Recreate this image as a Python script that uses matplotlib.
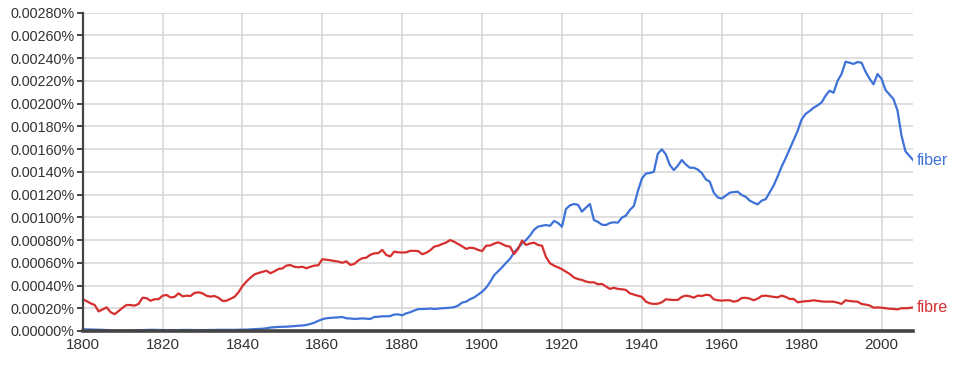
import matplotlib
matplotlib.use("Agg")
import matplotlib.pyplot as plt
from matplotlib.ticker import FuncFormatter, MultipleLocator

plt.rcParams['font.family'] = ['Liberation Sans', 'DejaVu Sans']

years = list(range(1800, 2009))

fibre = [
    0.000281, 0.000262, 0.000243, 0.000229, 0.000172, 0.000190, 0.000208, 0.000165, 0.000148, 0.000175,
    0.000205, 0.000229, 0.000228, 0.000223, 0.000238, 0.000293, 0.000288, 0.000266, 0.000279, 0.000280,
    0.000310, 0.000317, 0.000295, 0.000300, 0.000331, 0.000305, 0.000310, 0.000308, 0.000335, 0.000340,
    0.000331, 0.000310, 0.000302, 0.000308, 0.000292, 0.000265, 0.000266, 0.000283, 0.000300, 0.000340,
    0.000395, 0.000435, 0.000468, 0.000498, 0.000510, 0.000520, 0.000530, 0.000508, 0.000525, 0.000545,
    0.000550, 0.000575, 0.000580, 0.000565, 0.000560, 0.000565, 0.000552, 0.000565, 0.000575, 0.000578,
    0.000631, 0.000627, 0.000622, 0.000615, 0.000610, 0.000600, 0.000613, 0.000581, 0.000590, 0.000620,
    0.000640, 0.000645, 0.000670, 0.000683, 0.000685, 0.000713, 0.000669, 0.000656, 0.000698, 0.000692,
    0.000690, 0.000692, 0.000705, 0.000705, 0.000703, 0.000675, 0.000688, 0.000710, 0.000742, 0.000750,
    0.000765, 0.000778, 0.000800, 0.000785, 0.000765, 0.000745, 0.000722, 0.000733, 0.000728, 0.000713,
    0.000703, 0.000750, 0.000752, 0.000768, 0.000780, 0.000765, 0.000748, 0.000742, 0.000677, 0.000721,
    0.000795, 0.000757, 0.000770, 0.000777, 0.000757, 0.000750, 0.000650, 0.000596, 0.000575, 0.000560,
    0.000543, 0.000522, 0.000500, 0.000470, 0.000457, 0.000449, 0.000435, 0.000428, 0.000428, 0.000411,
    0.000414, 0.000392, 0.000370, 0.000380, 0.000370, 0.000367, 0.000361, 0.000331, 0.000320, 0.000310,
    0.000300, 0.000258, 0.000243, 0.000238, 0.000240, 0.000252, 0.000279, 0.000275, 0.000273, 0.000273,
    0.000300, 0.000311, 0.000305, 0.000293, 0.000311, 0.000308, 0.000318, 0.000315, 0.000279, 0.000270,
    0.000267, 0.000270, 0.000270, 0.000258, 0.000265, 0.000290, 0.000292, 0.000285, 0.000270, 0.000285,
    0.000308, 0.000311, 0.000305, 0.000300, 0.000296, 0.000311, 0.000300, 0.000282, 0.000282, 0.000252,
    0.000258, 0.000262, 0.000264, 0.000270, 0.000265, 0.000260, 0.000258, 0.000258, 0.000258, 0.000249,
    0.000238, 0.000270, 0.000264, 0.000260, 0.000258, 0.000238, 0.000232, 0.000225, 0.000205, 0.000207,
    0.000205, 0.000200, 0.000196, 0.000194, 0.000190, 0.000200, 0.000200, 0.000202, 0.000208,
]

fiber = [
    0.000015, 0.000014, 0.000013, 0.000012, 0.000011, 0.000010, 0.000008, 0.000005, 0.000003, 0.000003,
    0.000003, 0.000003, 0.000004, 0.000005, 0.000007, 0.000008, 0.000009, 0.000010, 0.000010, 0.000009,
    0.000008, 0.000008, 0.000008, 0.000008, 0.000008, 0.000009, 0.000009, 0.000009, 0.000008, 0.000008,
    0.000008, 0.000008, 0.000009, 0.000009, 0.000010, 0.000010, 0.000010, 0.000010, 0.000010, 0.000011,
    0.000011, 0.000012, 0.000014, 0.000016, 0.000018, 0.000020, 0.000024, 0.000030, 0.000033, 0.000036,
    0.000037, 0.000038, 0.000040, 0.000043, 0.000046, 0.000048, 0.000053, 0.000062, 0.000073, 0.000090,
    0.000103, 0.000112, 0.000115, 0.000118, 0.000120, 0.000123, 0.000112, 0.000110, 0.000106, 0.000108,
    0.000111, 0.000108, 0.000106, 0.000123, 0.000125, 0.000129, 0.000129, 0.000131, 0.000145, 0.000146,
    0.000138, 0.000155, 0.000165, 0.000180, 0.000192, 0.000193, 0.000194, 0.000198, 0.000193, 0.000197,
    0.000200, 0.000202, 0.000205, 0.000210, 0.000223, 0.000250, 0.000258, 0.000280, 0.000295, 0.000320,
    0.000345, 0.000380, 0.000430, 0.000490, 0.000525, 0.000560, 0.000600, 0.000635, 0.000690, 0.000730,
    0.000770, 0.000800, 0.000840, 0.000890, 0.000918, 0.000926, 0.000932, 0.000925, 0.000968, 0.000950,
    0.000917, 0.001073, 0.001105, 0.001117, 0.001110, 0.001050, 0.001085, 0.001117, 0.000976, 0.000960,
    0.000935, 0.000932, 0.000950, 0.000956, 0.000953, 0.000997, 0.001015, 0.001065, 0.001100, 0.001230,
    0.001340, 0.001385, 0.001390, 0.001400, 0.001560, 0.001598, 0.001554, 0.001460, 0.001416, 0.001454,
    0.001504, 0.001465, 0.001436, 0.001436, 0.001420, 0.001390, 0.001334, 0.001314, 0.001217, 0.001175,
    0.001165, 0.001190, 0.001217, 0.001222, 0.001225, 0.001196, 0.001180, 0.001147, 0.001128, 0.001114,
    0.001147, 0.001159, 0.001220, 0.001280, 0.001360, 0.001446, 0.001520, 0.001600, 0.001680, 0.001760,
    0.001860, 0.001910, 0.001935, 0.001964, 0.001985, 0.002010, 0.002070, 0.002114, 0.002096, 0.002200,
    0.002261, 0.002369, 0.002360, 0.002349, 0.002366, 0.002360, 0.002281, 0.002220, 0.002170, 0.002260,
    0.002220, 0.002120, 0.002080, 0.002040, 0.001940, 0.001720, 0.001580, 0.001540, 0.001500,
]

series_names = ["fiber", "fibre"]
colors = {"fiber": "#3f72d8", "fibre": "#d62f2f"}

fig = plt.figure(figsize=(9.56, 3.65), dpi=100)
ax = fig.add_axes([0.0865, 0.0932, 0.869, 0.872])

ax.plot(years, fiber, color=colors["fiber"], lw=1.6, solid_joinstyle='round')
ax.plot(years, fibre, color=colors["fibre"], lw=1.6, solid_joinstyle='round')

ax.set_xlim(1800, 2008)
ax.set_ylim(0, 0.0028)
ax.xaxis.set_major_locator(MultipleLocator(20))
ax.yaxis.set_major_locator(MultipleLocator(0.0002))
ax.yaxis.set_major_formatter(FuncFormatter(lambda v, p: f"{v:.5f}%"))

ax.grid(True, color="#d6d6d6", lw=1.1)
ax.set_axisbelow(True)
for s in ["top", "right"]:
    ax.spines[s].set_visible(False)
ax.spines["left"].set_color("#444444")
ax.spines["left"].set_linewidth(1.6)
ax.spines["bottom"].set_color("#444444")
ax.spines["bottom"].set_linewidth(2.6)

ax.tick_params(axis="y", length=4, width=1.4, color="#444444", labelsize=10.4, labelcolor="#333333", pad=2)
ax.tick_params(axis="x", length=0, labelsize=11, labelcolor="#333333", pad=5)

ax.text(2008.8, fiber[-1], series_names[0], color=colors["fiber"], fontsize=11.5,
        va="center", ha="left", clip_on=False)
ax.text(2008.8, fibre[-1], series_names[1], color=colors["fibre"], fontsize=11.5,
        va="center", ha="left", clip_on=False)

fig.savefig("out.png", dpi=100)
